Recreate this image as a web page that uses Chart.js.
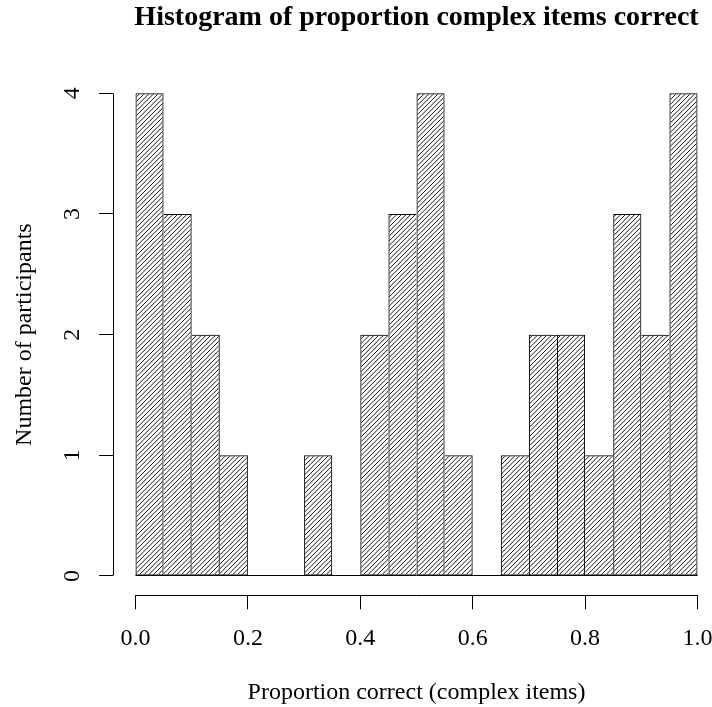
<!DOCTYPE html>
<html>
<head>
<meta charset="utf-8">
<title>Histogram of proportion complex items correct</title>
<script src="https://cdn.jsdelivr.net/npm/chart.js@4.4.1/dist/chart.umd.min.js"></script>
<style>
  html, body { margin: 0; padding: 0; background: #fff; overflow: hidden; width: 712px; height: 707px; }
  canvas { display: block; }
</style>
</head>
<body>
<!-- the R plot region runs a little past the right edge of the picture, so the canvas does too -->
<canvas id="hist" width="720" height="707"></canvas>
<script>
// Data: 20 bins of width 0.05
const binEdges = [0, 0.05, 0.10, 0.15, 0.20, 0.25, 0.30, 0.35, 0.40, 0.45, 0.50,
                  0.55, 0.60, 0.65, 0.70, 0.75, 0.80, 0.85, 0.90, 0.95, 1.00];
const counts = [4, 3, 2, 1, 0, 0, 1, 0, 2, 3, 4, 1, 0, 1, 2, 2, 1, 3, 2, 4];
const xTickValues = [0, 0.2, 0.4, 0.6, 0.8, 1.0];
const xTickLabels = ['0.0', '0.2', '0.4', '0.6', '0.8', '1.0'];
const yTickValues = [0, 1, 2, 3, 4];
const yTickLabels = ['0', '1', '2', '3', '4'];

const titleText = 'Histogram of proportion complex items correct';
const xTitle = 'Proportion correct (complex items)';
const yTitle = 'Number of participants';

Chart.defaults.font.family = "'Liberation Serif', 'Times New Roman', serif";
Chart.defaults.color = '#000';

// diagonal hatching like R's density shading
function makeHatch() {
    const size = 14;
    const c = document.createElement('canvas');
    c.width = size; c.height = size;
    const g = c.getContext('2d');
    g.strokeStyle = '#1a1a1a';
    g.lineWidth = 1;
    for (let i = -3; i <= 6; i++) {
        const off = i * size / 3;
        g.beginPath();
        g.moveTo(off, size);
        g.lineTo(off + size, 0);
        g.stroke();
    }
    return g.createPattern(c, 'repeat');
}

// R-style axis lines that only span first..last tick, plus the zero baseline
const rAxes = {
    id: 'rAxes',
    afterDraw(chart) {
        const { ctx, chartArea, scales: { x, y } } = chart;
        const al = v => Math.round(v - 0.5) + 0.5;
        ctx.save();
        ctx.strokeStyle = '#000';
        ctx.lineWidth = 1;
        ctx.beginPath();
        // x axis
        const yb = al(chartArea.bottom);
        ctx.moveTo(al(x.getPixelForValue(xTickValues[0])), yb);
        ctx.lineTo(al(x.getPixelForValue(xTickValues[xTickValues.length - 1])), yb);
        // y axis
        const xl = al(chartArea.left);
        ctx.moveTo(xl, al(y.getPixelForValue(yTickValues[0])));
        ctx.lineTo(xl, al(y.getPixelForValue(yTickValues[yTickValues.length - 1])));
        // baseline of the histogram
        const y0 = al(y.getPixelForValue(0));
        ctx.moveTo(x.getPixelForValue(binEdges[0]), y0);
        ctx.lineTo(x.getPixelForValue(binEdges[binEdges.length - 1]), y0);
        ctx.stroke();
        ctx.restore();
    }
};

const points = counts.map((c, i) => ({ x: (binEdges[i] + binEdges[i + 1]) / 2, y: c }));

new Chart(document.getElementById('hist'), {
    type: 'bar',
    data: {
        datasets: [{
            data: points,
            backgroundColor: makeHatch(),
            borderColor: '#000',
            borderSkipped: false,
            inflateAmount: 0,
            // shared edges drawn once, by the taller bar
            borderWidth: ctx => {
                const i = ctx.dataIndex;
                const c = counts[i];
                const prev = i > 0 ? counts[i - 1] : 0;
                const next = i < counts.length - 1 ? counts[i + 1] : 0;
                return { top: 1, bottom: 1, left: prev <= c ? 1 : 0, right: next < c ? 1 : 0 };
            },
            barPercentage: 1,
            categoryPercentage: 1
        }]
    },
    options: {
        responsive: false,
        devicePixelRatio: 1,
        animation: false,
        events: [],
        layout: { padding: 0 },
        plugins: {
            legend: { display: false },
            tooltip: { enabled: false },
            title: {
                display: true,
                text: titleText,
                fullSize: false,
                font: { size: 28, weight: 'bold', lineHeight: 1 },
                padding: { top: 3.5, bottom: 42.5 }
            }
        },
        scales: {
            x: {
                type: 'linear',
                offset: false,
                min: -0.04,
                max: 1.04,
                afterBuildTicks: s => { s.ticks = xTickValues.map(v => ({ value: v })); },
                afterFit: s => { s.height = 111.7; s.paddingLeft = 0; s.paddingRight = 0; },
                grid: { offset: false, drawOnChartArea: false, tickLength: 14, tickColor: '#000', lineWidth: 1 },
                border: { display: false },
                ticks: {
                    autoSkip: false,
                    maxRotation: 0,
                    padding: 17.2,
                    font: { size: 24, lineHeight: 1 },
                    callback: (v, i) => xTickLabels[i]
                },
                title: {
                    display: true,
                    text: xTitle,
                    font: { size: 24, lineHeight: 1 },
                    padding: { top: 0, bottom: 2.4 }
                }
            },
            y: {
                type: 'linear',
                min: -0.16,
                max: 4.16,
                afterBuildTicks: s => { s.ticks = yTickValues.map(v => ({ value: v })); },
                afterFit: s => { s.width = 113; s.paddingTop = 0; s.paddingBottom = 0; },
                grid: { drawOnChartArea: false, tickLength: 14, tickColor: '#000', lineWidth: 1 },
                border: { display: false },
                ticks: {
                    autoSkip: false,
                    minRotation: 90,
                    maxRotation: 90,
                    crossAlign: 'center',
                    padding: 19.8,
                    font: { size: 24, lineHeight: 1 },
                    callback: (v, i) => yTickLabels[i]
                },
                title: {
                    display: true,
                    text: yTitle,
                    font: { size: 24, lineHeight: 1 },
                    padding: { top: 13, bottom: 0 }
                }
            }
        }
    },
    plugins: [rAxes]
});
</script>
</body>
</html>
